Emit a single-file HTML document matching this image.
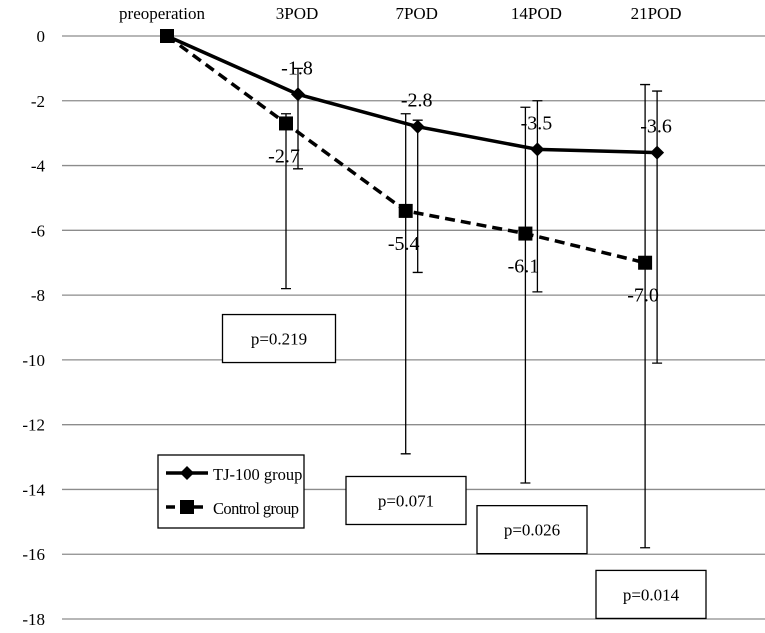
<!DOCTYPE html>
<html><head><meta charset="utf-8"><style>
body{margin:0;background:#fff}
svg{display:block;font-family:"Liberation Serif",serif}
</style></head><body>
<svg width="765" height="633">
<g id="grid"></g><g id="plot"></g>
</svg>
<script>
const categories=["preoperation","3POD","7POD","14POD","21POD"];
const tjValues=[0,-1.8,-2.8,-3.5,-3.6];
const ctlValues=[0,-2.7,-5.4,-6.1,-7.0];
const tjTop=[0,-1.0,-2.6,-2.0,-1.7];
const tjBottom=[0,-4.1,-7.3,-7.9,-10.1];
const ctlTop=[0,-2.4,-2.4,-2.2,-1.5];
const ctlBottom=[0,-7.8,-12.9,-13.8,-15.8];
const yTicks=[0,-2,-4,-6,-8,-10,-12,-14,-16,-18];
const pValues=["p=0.219","p=0.071","p=0.026","p=0.014"];
const pBoxY=[-8.6,-13.6,-14.5,-16.5];

const NS="http://www.w3.org/2000/svg";
const g=document.getElementById('plot'),gg=document.getElementById('grid');
const y=v=>36+(v/-18)*583;
const xTJ=i=>i===0?167:298+(i-1)*119.7;
const xC=i=>i===0?167:xTJ(i)-12;
function mk(t,a,p){const e=document.createElementNS(NS,t);for(const k in a)e.setAttribute(k,a[k]);(p||g).appendChild(e);return e;}
yTicks.forEach(v=>{
 const l=mk('line',{x1:62,x2:765,y1:y(v),y2:y(v),stroke:'#8c8c8c','stroke-width':1.3},gg);
 
 
 const t=mk('text',{x:45,y:y(v)+6,'text-anchor':'end','font-size':17},gg);t.textContent=v;
 
 
});
categories.forEach((c,i)=>{
 const t=mk('text',{x:i===0?162:xTJ(i)-1,y:19,'text-anchor':'middle','font-size':17});t.textContent=c;
 
 
});
function ebar(x,a,b){
 if(a===b)return;
 const e=mk('path',{d:`M${x},${y(a)}V${y(b)}M${x-5},${y(a)}h10M${x-5},${y(b)}h10`,stroke:'#000','stroke-width':1.3,fill:'none'});
 
 
}
categories.forEach((c,i)=>{ebar(xC(i),ctlTop[i],ctlBottom[i]);ebar(xTJ(i),tjTop[i],tjBottom[i]);});
const lc=mk('polyline',{points:ctlValues.map((v,i)=>xC(i)+','+y(v)).join(' '),fill:'none',stroke:'#000','stroke-width':3.5,'stroke-dasharray':'10,6'});


const lt=mk('polyline',{points:tjValues.map((v,i)=>xTJ(i)+','+y(v)).join(' '),fill:'none',stroke:'#000','stroke-width':3.5});


tjValues.forEach((v,i)=>{
 if(i===0)return;
 const m=mk('path',{d:`M${xTJ(i)},${y(v)-7}l7,7l-7,7l-7,-7z`,fill:'#000'});
 
 
 const t=mk('text',{x:xTJ(i)-1,y:y(v)-20,'text-anchor':'middle','font-size':20});t.textContent=v.toFixed(1);
 
 
});
ctlValues.forEach((v,i)=>{
 const m=mk('rect',{x:xC(i)-7,y:y(v)-7,width:14,height:14,fill:'#000'});
 
 
 if(i===0)return;
 const t=mk('text',{x:xC(i)-2,y:y(v)+39,'text-anchor':'middle','font-size':20});t.textContent=v.toFixed(1);
 
 
});
pValues.forEach((p,i)=>{
 const cx=i===0?279:(i===1?406:(i===2?532:651));
 const w=i===0?113:(i===1?120:110);
 const r=mk('rect',{x:cx-w/2,y:y(pBoxY[i]),width:w,height:48,fill:'#fff',stroke:'#000','stroke-width':1.3});
 
 
 const t=mk('text',{x:cx,y:y(pBoxY[i])+30,'text-anchor':'middle','font-size':17});t.textContent=p;
 
 
});
const lg=mk('g',{});


mk('rect',{x:158,y:455,width:146,height:73,fill:'#fff',stroke:'#000','stroke-width':1.3},lg);
mk('line',{x1:166,x2:208,y1:473,y2:473,stroke:'#000','stroke-width':3.5},lg);
mk('path',{d:'M187,466l7,7l-7,7l-7,-7z',fill:'#000'},lg);
mk('line',{x1:166,x2:208,y1:507,y2:507,stroke:'#000','stroke-width':3.5,'stroke-dasharray':'9,5'},lg);
mk('rect',{x:180,y:500,width:14,height:14,fill:'#000'},lg);
const t1=mk('text',{x:213,y:480,'font-size':16.5},lg);t1.textContent="TJ-100 group";


const t2=mk('text',{x:213,y:514,'font-size':16.5,textLength:86},lg);t2.textContent="Control group";


</script>
</body></html>
